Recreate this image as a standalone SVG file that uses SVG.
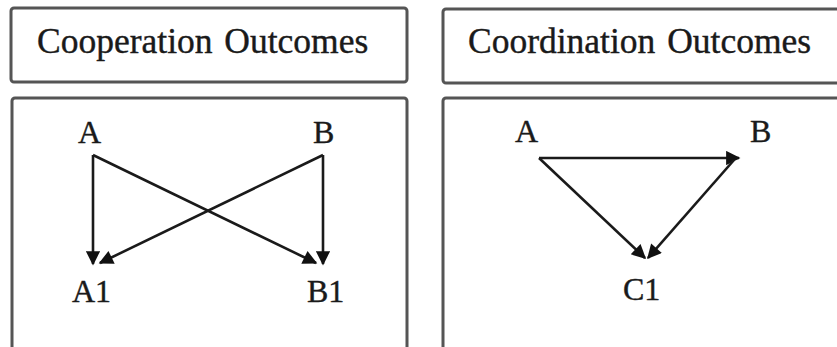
<svg xmlns="http://www.w3.org/2000/svg" width="837" height="347" viewBox="0 0 837 347">
<style>
.box{fill:#fff;stroke:#555;stroke-width:3}
.t{font-family:"Liberation Serif","Times New Roman",serif;fill:#1a1a1a;stroke:#1a1a1a;stroke-width:0.4}
.h{font-size:35.5px;word-spacing:3px}
.l{font-size:32px}
.c{stroke:#1a1a1a;stroke-width:2.6;fill:none;marker-end:url(#ah)}
</style>
<defs>
<marker id="ah" viewBox="0 0 10 10" refX="9" refY="5" markerWidth="7" markerHeight="5.5" markerUnits="strokeWidth" orient="auto">
<path d="M0,0 L10,5 L0,10 z" fill="#111"/>
</marker>
</defs>
<rect width="837" height="347" fill="#fff"/>
<g id="header-coop"><rect class="box" x="11" y="8" width="396" height="74" rx="3"/><text class="t h" x="37" y="53">Cooperation Outcomes</text></g>
<g id="header-coord"><rect class="box" x="443" y="9" width="400" height="74" rx="3"/><text class="t h" x="468" y="53">Coordination Outcomes</text></g>
<g id="panel-coop"><rect class="box" x="12" y="98" width="395" height="260" rx="3"/></g>
<g id="panel-coord"><rect class="box" x="443" y="98" width="400" height="260" rx="3"/></g>
<g id="coop-A"><text class="t l" x="78" y="143">A</text></g>
<g id="coop-B"><text class="t l" x="313" y="143">B</text></g>
<g id="coop-A1"><text class="t l" x="72" y="302">A1</text></g>
<g id="coop-B1"><text class="t l" x="307" y="302">B1</text></g>
<g id="coord-A"><text class="t l" x="515" y="142">A</text></g>
<g id="coord-B"><text class="t l" x="750" y="142">B</text></g>
<g id="coord-C1"><text class="t l" x="623" y="300">C1</text></g>
<g id="connectors">
<line class="c" x1="93" y1="155" x2="93" y2="264"/>
<line class="c" x1="323" y1="155" x2="323" y2="264"/>
<line class="c" x1="93" y1="155" x2="316" y2="263"/>
<line class="c" x1="323" y1="155" x2="100" y2="263"/>
<line class="c" x1="539" y1="158" x2="739" y2="158"/>
<line class="c" x1="539" y1="158" x2="645" y2="258"/>
<line class="c" x1="734" y1="160" x2="648" y2="258"/>
</g>
</svg>
